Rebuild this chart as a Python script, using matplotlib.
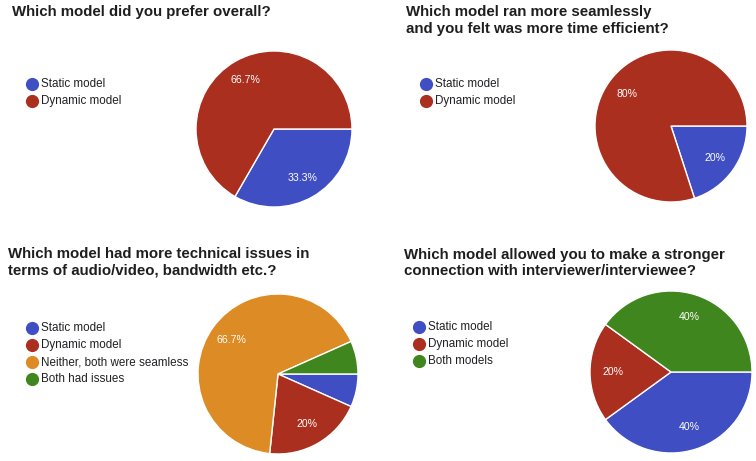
import matplotlib
matplotlib.use('Agg')
from matplotlib import pyplot as plt

plt.rcParams['font.family'] = ['Liberation Sans', 'DejaVu Sans']

W, H = 756, 461

# colours (google forms style)
blue = '#3f4ec3'
red = '#ab2f1f'
orange = '#dc8b25'
green = '#40861f'

# chart data (response counts, shown as percentages)
titles = [
    'Which model did you prefer overall?',
    'Which model ran more seamlessly\nand you felt was more time efficient?',
    'Which model had more technical issues in\nterms of audio/video, bandwidth etc.?',
    'Which model allowed you to make a stronger\nconnection with interviewer/interviewee?',
]

labels1 = ['Static model', 'Dynamic model']
values1 = [1, 2]

labels2 = ['Static model', 'Dynamic model']
values2 = [1, 4]

labels3 = ['Static model', 'Dynamic model', 'Neither, both were seamless', 'Both had issues']
values3 = [1, 3, 10, 1]

labels4 = ['Static model', 'Dynamic model', 'Both models']
values4 = [2, 1, 2]

colors1 = [blue, red]
colors3 = [blue, red, orange, green]
colors4 = [blue, red, green]

# layout in pixels: pie centre, radius, title pos, legend pos
charts = [
    dict(labels=labels1, values=values1, colors=colors1, cx=274, cy=129, r=78,
         tx=12, ty=12, lx=32, ly=84),
    dict(labels=labels2, values=values2, colors=colors1, cx=671, cy=126, r=76,
         tx=406, ty=20.5, lx=426, ly=84),
    dict(labels=labels3, values=values3, colors=colors3, cx=278, cy=374, r=80,
         tx=8, ty=262, lx=32, ly=328),
    dict(labels=labels4, values=values4, colors=colors4, cx=671, cy=372, r=81,
         tx=404, ty=263, lx=419, ly=327),
]


def fmt(pct):
    if pct < 10:
        return ''
    s = f'{pct:.1f}'.rstrip('0').rstrip('.')
    return s + '%'


fig = plt.figure(figsize=(W / 100, H / 100), dpi=100)
fig.patch.set_facecolor('white')

# overlay axes in pixel coords for titles and legends
over = fig.add_axes([0, 0, 1, 1])
over.set_xlim(0, W)
over.set_ylim(H, 0)
over.axis('off')

for i, c in enumerate(charts):
    ax = fig.add_axes([(c['cx'] - c['r']) / W, 1 - (c['cy'] + c['r']) / H,
                       2 * c['r'] / W, 2 * c['r'] / H])
    wedges, texts, autotexts = ax.pie(
        c['values'], colors=c['colors'], startangle=0, counterclock=False,
        autopct=fmt, pctdistance=0.72, radius=1,
        wedgeprops=dict(edgecolor='white', linewidth=1),
        textprops=dict(color='white', fontsize=7.6))
    ax.set_xlim(-1, 1)
    ax.set_ylim(-1, 1)

    over.text(c['tx'], c['ty'], titles[i], fontsize=10.8, fontweight='bold',
              color='#1e1e1e', ha='left', va='center', linespacing=1.22)

    for j, lab in enumerate(c['labels']):
        y = c['ly'] + j * 17
        over.scatter([c['lx']], [y], s=72, color=c['colors'][j], zorder=3)
        over.text(c['lx'] + 9, y, lab, fontsize=8.4, color='#202124',
                  ha='left', va='center')

fig.savefig('out.png', dpi=100, facecolor='white')
